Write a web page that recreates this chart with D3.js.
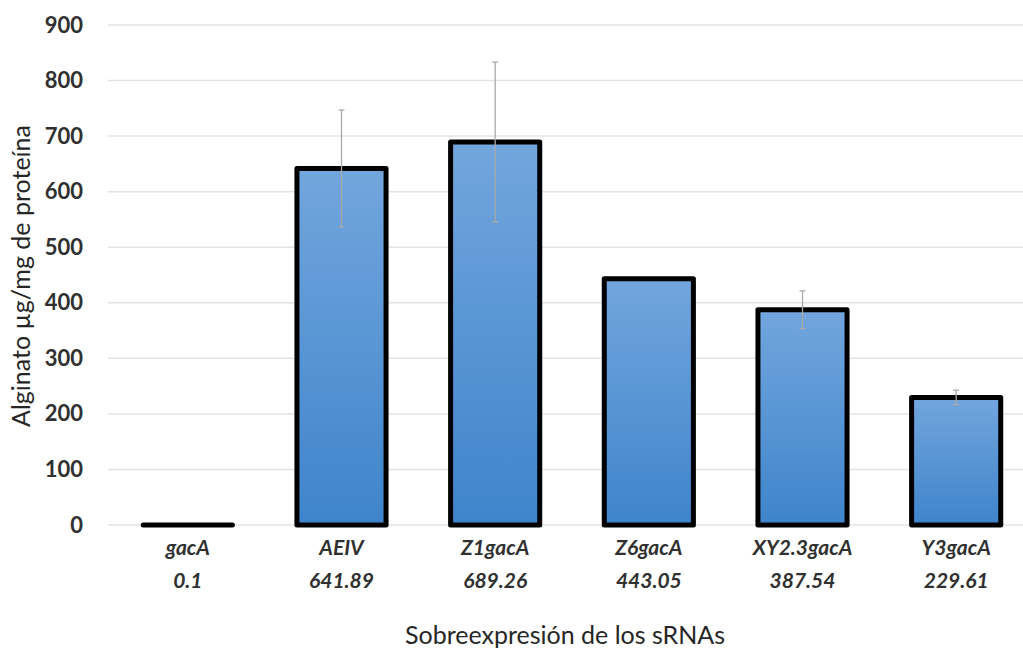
<!DOCTYPE html>
<html>
<head>
<meta charset="utf-8">
<script src="https://cdn.jsdelivr.net/npm/d3@7"></script>
<style>
  html, body { margin: 0; padding: 0; background: #fff; }
  svg { display: block; font-family: Lato, "Open Sans", sans-serif; }
</style>
</head>
<body>
<svg id="chart" width="1023" height="650"></svg>
<script>
// Alginate production per strain (µg/mg protein) with standard deviation
const categories = ["gacA", "AEIV", "Z1gacA", "Z6gacA", "XY2.3gacA", "Y3gacA"];
const values = [0.1, 641.89, 689.26, 443.05, 387.54, 229.61];
const errors = [0, 105, 144, 0, 34, 13];
const yTicks = [0, 100, 200, 300, 400, 500, 600, 700, 800, 900];

const svg = d3.select("#chart");
const plotLeft = 111, plotRight = 1033, plotTop = 25, plotBottom = 525;

const x = d3.scaleBand().domain(categories).range([plotLeft, plotRight]).paddingInner(0.42).paddingOuter(0.21);
const y = d3.scaleLinear().domain([0, 900]).range([plotBottom, plotTop]);

const defs = svg.append("defs");
const grad = defs.append("linearGradient").attr("id", "barFill")
  .attr("x1", 0).attr("y1", 0).attr("x2", 0).attr("y2", 1);
grad.append("stop").attr("offset", "0%").attr("stop-color", "#72a6dd");
grad.append("stop").attr("offset", "100%").attr("stop-color", "#3f84cb");

// horizontal gridlines
svg.append("g")
  .selectAll("line").data(yTicks).join("line")
  .attr("x1", 108).attr("x2", 1023)
  .attr("y1", d => y(d)).attr("y2", d => y(d))
  .attr("stroke", "#e3e3e3").attr("stroke-width", 1.5);

// y tick labels
const yAxis = svg.append("g").attr("transform", `translate(${83},0)`)
  .call(d3.axisLeft(y).tickValues(yTicks).tickSize(0).tickPadding(0));
yAxis.select(".domain").remove();
yAxis.selectAll("text")
  .attr("font-family", "Lato, sans-serif")
  .attr("font-size", 22).attr("font-weight", 700).attr("fill", "#303030");

// bars
svg.append("g")
  .selectAll("rect").data(categories).join("rect")
  .attr("x", d => x(d))
  .attr("width", x.bandwidth())
  .attr("y", (d, i) => y(values[i]))
  .attr("height", (d, i) => y(0) - y(values[i]))
  .attr("fill", "url(#barFill)")
  .attr("stroke", "#000").attr("stroke-width", 5)
  .attr("stroke-linejoin", "round");

// error bars
const eb = svg.append("g").attr("stroke", "#a9a9a9").attr("stroke-width", 1.3);
categories.forEach((c, i) => {
  if (!errors[i]) return;
  const cx = x(c) + x.bandwidth() / 2;
  const hi = y(values[i] + errors[i]), lo = y(values[i] - errors[i]);
  eb.append("line").attr("x1", cx).attr("x2", cx).attr("y1", hi).attr("y2", lo);
  eb.append("line").attr("x1", cx - 3).attr("x2", cx + 3).attr("y1", hi).attr("y2", hi);
  eb.append("line").attr("x1", cx - 3).attr("x2", cx + 3).attr("y1", lo).attr("y2", lo);
});

// category names and values under the axis
const lab = svg.append("g").attr("text-anchor", "middle")
  .attr("font-family", "Lato, sans-serif").attr("font-style", "italic")
  .attr("font-weight", 700).attr("font-size", 21).attr("fill", "#303030");
categories.forEach((c, i) => {
  const cx = x(c) + x.bandwidth() / 2;
  lab.append("text").attr("x", cx).attr("y", 555).text(c);
  lab.append("text").attr("x", cx).attr("y", 588).text(values[i]);
});

// axis titles
svg.append("text")
  .attr("x", 565).attr("y", 644).attr("text-anchor", "middle")
  .attr("font-family", "Lato, sans-serif").attr("font-size", 25).attr("fill", "#262626")
  .text("Sobreexpresión de los sRNAs");

svg.append("text")
  .attr("transform", "translate(30,276) rotate(-90)")
  .attr("text-anchor", "middle")
  .attr("font-family", "Lato, sans-serif").attr("font-size", 25).attr("fill", "#262626")
  .text("Alginato µg/mg de proteína");
</script>
</body>
</html>
